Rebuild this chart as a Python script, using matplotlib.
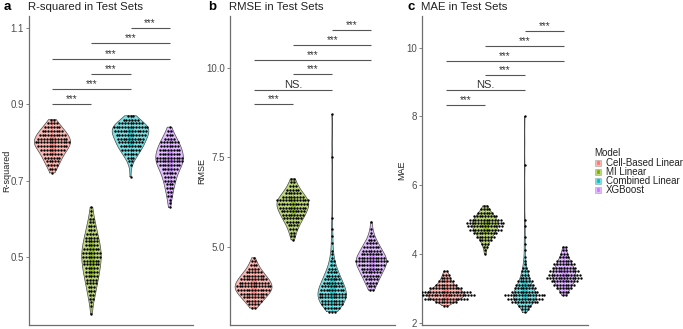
import numpy as np
import matplotlib
matplotlib.use('Agg')
import matplotlib.pyplot as plt
from matplotlib.patches import Rectangle

plt.rcParams['font.family'] = ['Liberation Sans', 'DejaVu Sans']

models = ['Cell-Based Linear', 'MI Linear', 'Combined Linear', 'XGBoost']
colors = ['#F8766D', '#7CAE00', '#00BFC4', '#C77CFF']

# values read off the swarms: level -> number of test sets at that level
# R-squared
r2_cell_lv = [0.72, 0.73, 0.74, 0.75, 0.76, 0.77, 0.78, 0.79, 0.80, 0.81, 0.82, 0.83, 0.84, 0.85, 0.86]
r2_cell_n = [1, 3, 4, 5, 6, 7, 9, 11, 13, 11, 10, 8, 6, 4, 2]
r2_mi_lv = [0.35, 0.37, 0.38, 0.39, 0.40, 0.41, 0.42, 0.43, 0.44, 0.45, 0.46, 0.47, 0.48, 0.49,
            0.50, 0.51, 0.52, 0.53, 0.54, 0.55, 0.56, 0.57, 0.58, 0.59, 0.60, 0.61, 0.62, 0.63]
r2_mi_n = [1, 1, 1, 2, 2, 3, 3, 4, 4, 5, 5, 5, 6, 6, 7, 7, 6, 5, 5, 5, 4, 3, 3, 2, 2, 1, 1, 1]
r2_comb_lv = [0.71, 0.74, 0.75, 0.76, 0.77, 0.78, 0.79, 0.80, 0.81, 0.82, 0.83, 0.84, 0.85, 0.86, 0.87]
r2_comb_n = [1, 1, 2, 3, 5, 7, 8, 9, 10, 11, 12, 13, 9, 6, 3]
r2_xgb_lv = [0.63, 0.64, 0.65, 0.66, 0.67, 0.68, 0.69, 0.70, 0.71, 0.72, 0.73, 0.74, 0.75, 0.76,
             0.77, 0.78, 0.79, 0.80, 0.81, 0.82, 0.83, 0.84]
r2_xgb_n = [1, 1, 1, 2, 2, 3, 3, 4, 4, 5, 6, 8, 10, 10, 8, 8, 7, 7, 4, 3, 2, 1]

# RMSE
rmse_cell_lv = [3.3, 3.4, 3.5, 3.6, 3.7, 3.8, 3.9, 4.0, 4.1, 4.2, 4.3, 4.4, 4.5, 4.6, 4.7]
rmse_cell_n = [2, 4, 6, 8, 10, 12, 13, 11, 10, 8, 6, 4, 3, 2, 1]
rmse_mi_lv = [5.2, 5.3, 5.4, 5.5, 5.6, 5.7, 5.8, 5.9, 6.0, 6.1, 6.2, 6.3, 6.4, 6.5, 6.6, 6.7, 6.8, 6.9]
rmse_mi_n = [1, 2, 2, 3, 4, 5, 7, 8, 9, 10, 11, 12, 8, 6, 5, 3, 2, 2]
rmse_comb_lv = [3.2, 3.3, 3.4, 3.5, 3.6, 3.7, 3.8, 3.9, 4.0, 4.1, 4.2, 4.3, 4.4, 4.5, 4.6, 4.7,
                4.8, 4.9, 5.1, 5.3, 5.5, 5.8, 7.5, 8.7]
rmse_comb_n = [3, 6, 8, 8, 10, 10, 9, 8, 7, 6, 5, 4, 3, 2, 2, 1, 1, 1, 1, 1, 1, 1, 1, 1]
rmse_xgb_lv = [3.8, 3.9, 4.0, 4.1, 4.2, 4.3, 4.4, 4.5, 4.6, 4.7, 4.8, 4.9, 5.0, 5.1, 5.2, 5.3,
               5.4, 5.5, 5.7]
rmse_xgb_n = [2, 3, 4, 5, 6, 7, 8, 10, 12, 10, 8, 7, 6, 4, 3, 2, 1, 1, 1]

# MAE
mae_cell_lv = [2.5, 2.6, 2.7, 2.8, 2.9, 3.0, 3.1, 3.2, 3.3, 3.4, 3.5]
mae_cell_n = [2, 8, 16, 21, 18, 12, 8, 6, 4, 3, 2]
mae_mi_lv = [4.0, 4.1, 4.2, 4.3, 4.4, 4.5, 4.6, 4.7, 4.8, 4.9, 5.0, 5.1, 5.2, 5.3, 5.4]
mae_mi_n = [1, 1, 2, 3, 5, 7, 9, 12, 13, 14, 12, 9, 6, 4, 2]
mae_comb_lv = [2.3, 2.4, 2.5, 2.6, 2.7, 2.8, 2.9, 3.0, 3.1, 3.2, 3.3, 3.4, 3.5, 3.6, 3.7, 3.8,
               3.9, 4.1, 4.3, 4.5, 4.8, 5.0, 6.6, 8.0]
mae_comb_n = [1, 3, 5, 10, 13, 15, 10, 8, 7, 6, 4, 3, 3, 2, 1, 1, 1, 1, 1, 1, 1, 1, 1, 1]
mae_xgb_lv = [2.8, 2.9, 3.0, 3.1, 3.2, 3.3, 3.4, 3.5, 3.6, 3.7, 3.8, 3.9, 4.0, 4.1, 4.2]
mae_xgb_n = [2, 4, 6, 8, 10, 13, 12, 11, 9, 8, 6, 4, 3, 2, 2]

pairs = [(1, 2), (1, 3), (2, 3), (1, 4), (2, 4), (3, 4)]
r2_sig_y = [0.90, 0.94, 0.98, 1.02, 1.06, 1.10]
r2_sig_lab = ['***', '***', '***', '***', '***', '***']
rmse_sig_y = [8.98, 9.39, 9.81, 10.22, 10.64, 11.05]
rmse_sig_lab = ['***', 'NS.', '***', '***', '***', '***']
mae_sig_y = [8.33, 8.76, 9.19, 9.62, 10.05, 10.48]
mae_sig_lab = ['***', 'NS.', '***', '***', '***', '***']

panels = [
    dict(letter='a', title='R-squared in Test Sets', ylabel='R-squared',
         groups=[(r2_cell_lv, r2_cell_n), (r2_mi_lv, r2_mi_n), (r2_comb_lv, r2_comb_n), (r2_xgb_lv, r2_xgb_n)],
         sig_y=r2_sig_y, sig_lab=r2_sig_lab, ylim=(0.3207, 1.1318), yticks=[0.5, 0.7, 0.9, 1.1],
         yfmt='{:.1f}', rect=[29, 16, 193, 325], lab_x=11, let_x=4),
    dict(letter='b', title='RMSE in Test Sets', ylabel='RMSE',
         groups=[(rmse_cell_lv, rmse_cell_n), (rmse_mi_lv, rmse_mi_n), (rmse_comb_lv, rmse_comb_n), (rmse_xgb_lv, rmse_xgb_n)],
         sig_y=rmse_sig_y, sig_lab=rmse_sig_lab, ylim=(2.825, 11.44), yticks=[5.0, 7.5, 10.0],
         yfmt='{:.1f}', rect=[230, 16, 395, 325], lab_x=206, let_x=208),
    dict(letter='c', title='MAE in Test Sets', ylabel='MAE',
         groups=[(mae_cell_lv, mae_cell_n), (mae_mi_lv, mae_mi_n), (mae_comb_lv, mae_comb_n), (mae_xgb_lv, mae_xgb_n)],
         sig_y=mae_sig_y, sig_lab=mae_sig_lab, ylim=(1.933, 10.92), yticks=[2, 4, 6, 8, 10],
         yfmt='{:.0f}', rect=[422, 16, 588, 325], lab_x=406, let_x=407),
]

W, H = 683, 329


def kde(vals, grid, adjust=1.2):
    n = len(vals)
    sd = vals.std(ddof=1)
    iqr = np.subtract(*np.percentile(vals, [75, 25]))
    bw = 0.9 * min(sd, iqr / 1.34) * n ** -0.2 * adjust
    z = (grid[:, None] - vals[None, :]) / bw
    return np.exp(-0.5 * z ** 2).sum(1) / (n * bw * np.sqrt(2 * np.pi))


fig = plt.figure(figsize=(W / 100, H / 100), dpi=100)
axis_grey = '#6e6e6e'

for p in panels:
    l, t, r, b = p['rect']
    ax = fig.add_axes([l / W, 1 - b / H, (r - l) / W, (b - t) / H])
    ymin, ymax = p['ylim']
    ax.set_xlim(0.4, 4.6)
    ax.set_ylim(ymin, ymax)
    px_per_x = (r - l) / 4.2
    dx = 2.8 / px_per_x

    data = [np.repeat(lv, n) for lv, n in p['groups']]
    curves = []
    for v in data:
        grid = np.linspace(v.min(), v.max(), 400)
        curves.append((grid, kde(v, grid)))
    dmax = max(c[1].max() for c in curves)

    for i, (v, (grid, d), col) in enumerate(zip(data, curves, colors)):
        pos = i + 1
        hw = 0.47 * d / dmax
        ax.fill_betweenx(grid, pos - hw, pos + hw, facecolor=col, alpha=0.5,
                         edgecolor='none', zorder=2)
        ax.plot(np.r_[pos - hw, (pos + hw)[::-1], pos - hw[0]],
                np.r_[grid, grid[::-1], grid[0]], color='#4a4a4a', lw=0.5, zorder=3)
        # narrow box plot inside the violin
        q1, med, q3 = np.percentile(v, [25, 50, 75])
        iqr = q3 - q1
        lo = v[v >= q1 - 1.5 * iqr].min()
        hi = v[v <= q3 + 1.5 * iqr].max()
        bw_ = 0.06
        ax.add_patch(Rectangle((pos - bw_, q1), 2 * bw_, q3 - q1, facecolor=col, alpha=0.6,
                               edgecolor=col, lw=0.5, zorder=4))
        ax.plot([pos, pos], [lo, q1], color=col, lw=0.5, zorder=4)
        ax.plot([pos, pos], [q3, hi], color=col, lw=0.5, zorder=4)
        ax.plot([pos - bw_, pos + bw_], [med, med], color=col, lw=0.8, zorder=4)
        # swarm points in rows
        xs, ys = [], []
        for lv, n in zip(*p['groups'][i]):
            off = (np.arange(n) - (n - 1) / 2) * dx
            xs.extend(pos + off)
            ys.extend([lv] * n)
        ax.scatter(xs, ys, s=3, c='black', linewidths=0, zorder=5)

    for (g1, g2), yy, lab in zip(pairs, p['sig_y'], p['sig_lab']):
        ax.plot([g1, g2], [yy, yy], color='#555555', lw=0.8, zorder=3, solid_capstyle='butt')
        ax.text((g1 + g2) / 2, yy, lab, ha='center', va='bottom', fontsize=8 if lab == 'NS.' else 7,
                color='#333333')

    for s in ['top', 'right']:
        ax.spines[s].set_visible(False)
    for s in ['left', 'bottom']:
        ax.spines[s].set_color(axis_grey)
        ax.spines[s].set_linewidth(0.9)
    ax.set_xticks([])
    ax.set_yticks(p['yticks'])
    ax.set_yticklabels([p['yfmt'].format(t_) for t_ in p['yticks']])
    ax.tick_params(axis='y', length=2, width=0.6, color=axis_grey, labelsize=7,
                   labelcolor='#4d4d4d', pad=1.5)
    ax.set_ylabel(p['ylabel'], fontsize=6.5, color='#222222')
    ax.yaxis.set_label_coords((p['lab_x'] - l) / (r - l), 0.5)

    fig.text(p['let_x'] / W, 1 - 7.5 / H, p['letter'], fontsize=9.5, fontweight='bold',
             va='center', ha='left')
    fig.text((l - 1) / W, 1 - 7.5 / H, p['title'], fontsize=8.2, va='center', ha='left',
             color='#222222')

# legend
fig.text(594 / W, 1 - 153 / H, 'Model', fontsize=7, va='center', ha='left', color='#222222')
for i, (m, col) in enumerate(zip(models, colors)):
    yc = 162.5 + 9.1 * i
    fig.add_artist(Rectangle((595 / W, 1 - (yc + 3) / H), 6 / W, 6 / H, transform=fig.transFigure,
                             facecolor=col, alpha=0.5, edgecolor='#5a5a5a', lw=0.4))
    fig.add_artist(Rectangle((596.8 / W, 1 - (yc + 1.6) / H), 2.4 / W, 3.2 / H,
                             transform=fig.transFigure, facecolor=col, edgecolor=col, lw=0.5))
    fig.text(605.5 / W, 1 - yc / H, m, fontsize=7, va='center', ha='left', color='#222222')

fig.savefig('out.png', dpi=100)
